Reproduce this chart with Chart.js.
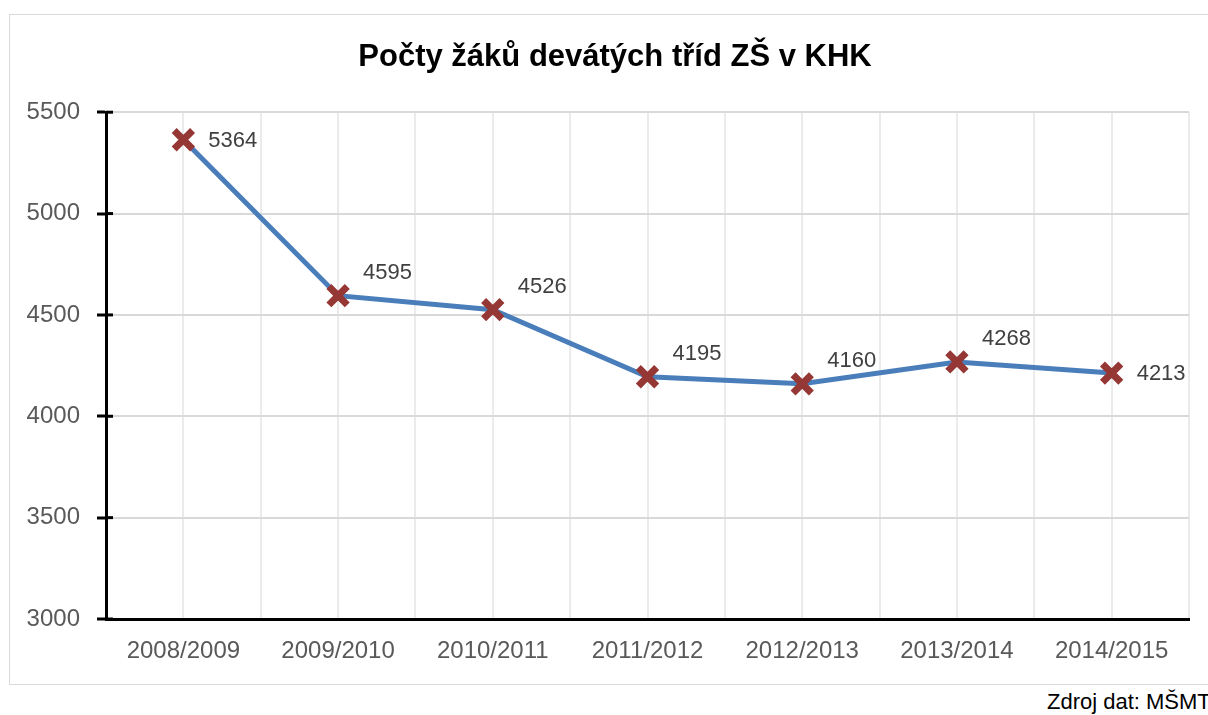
<!DOCTYPE html>
<html>
<head>
<meta charset="utf-8">
<script src="https://cdn.jsdelivr.net/npm/chart.js@4/dist/chart.umd.min.js"></script>
<style>
  html, body { margin: 0; padding: 0; background: #fff; overflow: hidden; width: 1208px; height: 715px; }
  #box { position: absolute; left: 9px; top: 14px; width: 1212px; height: 671px; border: 1px solid #d9d9d9; box-sizing: border-box; }
  #source { position: absolute; left: 1047px; top: 689px; font: 22px "Liberation Sans", Arial, sans-serif; color: #000; white-space: nowrap; }
</style>
</head>
<body>
<div id="box"><canvas id="chart"></canvas></div>
<div id="source">Zdroj dat: MŠMT</div>
<script>
// data
const years = ['2008/2009', '2009/2010', '2010/2011', '2011/2012', '2012/2013', '2013/2014', '2014/2015'];
const pupils = [5364, 4595, 4526, 4195, 4160, 4268, 4213];
const yTicks = [3000, 3500, 4000, 4500, 5000, 5500];
// where each value label sits next to its marker
const labelSide = ['right', 'above', 'above', 'above', 'above', 'above', 'right'];

const FONT = '"Liberation Sans", Arial, sans-serif';

// Excel style ticks crossing the axis + value labels
const extras = {
    id: 'extras',
    afterDraw(chart) {
        const ctx = chart.ctx;
        const y = chart.scales.y;
        ctx.save();
        ctx.strokeStyle = '#000';
        ctx.lineWidth = 3;
        yTicks.forEach(v => {
            const py = y.getPixelForValue(v);
            ctx.beginPath();
            ctx.moveTo(y.right, py);
            ctx.lineTo(y.right + 7, py);
            ctx.stroke();
        });
        ctx.restore();
    },
    afterDatasetsDraw(chart) {
        const ctx = chart.ctx;
        const meta = chart.getDatasetMeta(0);
        ctx.save();
        ctx.font = '22px ' + FONT;
        ctx.fillStyle = '#404040';
        ctx.textAlign = 'left';
        ctx.textBaseline = 'middle';
        meta.data.forEach((pt, i) => {
            const dy = labelSide[i] === 'above' ? -23 : 1;
            ctx.fillText(String(pupils[i]), pt.x + 25, pt.y + dy);
        });
        ctx.restore();
    }
};

new Chart(document.getElementById('chart'), {
    type: 'line',
    data: {
        datasets: [{
            data: pupils.map((v, i) => ({ x: i, y: v })),
            borderColor: '#4a7ebb',
            borderWidth: 5,
            tension: 0,
            pointStyle: 'crossRot',
            pointRadius: 13,
            pointHoverRadius: 13,
            pointBorderWidth: 7,
            pointBorderColor: '#953735',
            pointBackgroundColor: '#953735'
        }]
    },
    options: {
        responsive: true,
        maintainAspectRatio: false,
        animation: false,
        plugins: {
            legend: { display: false },
            tooltip: { enabled: false },
            title: {
                display: true,
                text: 'Počty žáků devátých tříd ZŠ v KHK',
                color: '#000',
                font: { family: FONT, size: 31, weight: 'bold' },
                padding: { top: 24, bottom: 36 }
            }
        },
        scales: {
            x: {
                type: 'linear',
                min: -0.5,
                max: years.length - 0.5,
                afterFit: s => { s.height = 65; },
                ticks: {
                    stepSize: 0.5,
                    autoSkip: false,
                    maxRotation: 0,
                    color: '#595959',
                    font: { family: FONT, size: 24 },
                    padding: 18,
                    callback: v => Number.isInteger(v) ? years[v] : ''
                },
                grid: { color: '#ebebeb', lineWidth: 2, drawTicks: false },
                border: { color: '#000', width: 3 }
            },
            y: {
                min: 3000,
                max: 5500,
                afterFit: s => { s.width = 96; },
                afterBuildTicks: s => { s.ticks = yTicks.map(v => ({ value: v })); },
                ticks: {
                    color: '#595959',
                    font: { family: FONT, size: 24 },
                    padding: 17,
                    callback: v => String(v)
                },
                grid: { color: '#d9d9d9', lineWidth: 2, tickLength: 9, tickColor: '#000', tickWidth: 3 },
                border: { color: '#000', width: 3 }
            },
            // empty right margin so the title stays centred on the whole chart
            pad: {
                position: 'right',
                min: 0,
                max: 1,
                afterFit: s => { s.width = 31; },
                ticks: { display: false },
                grid: { display: false, drawTicks: false },
                border: { display: false }
            }
        }
    },
    plugins: [extras]
});
</script>
</body>
</html>
